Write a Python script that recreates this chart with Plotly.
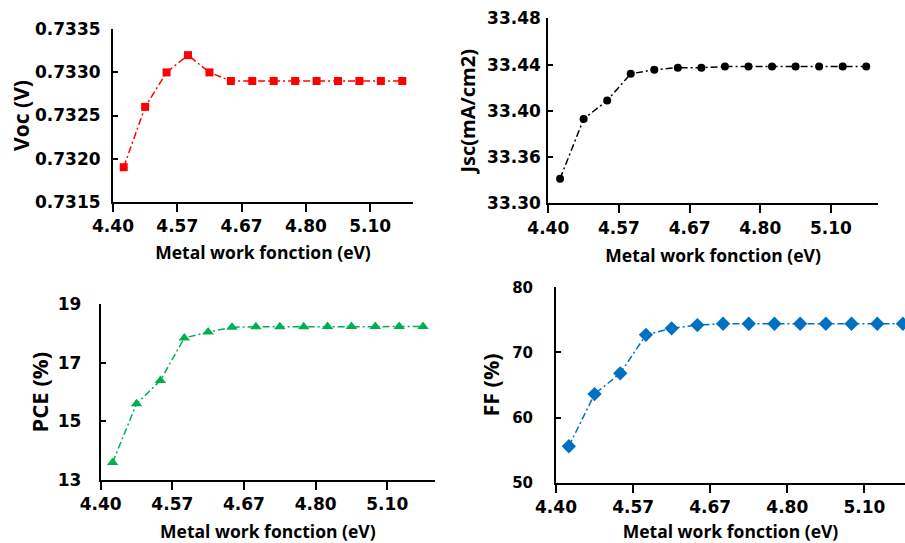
import plotly.graph_objects as go

# Category positions (14 work-function samples) and axis tick labels
n_points = 14
x_idx = list(range(n_points))
x_tick_pos = [-0.5, 2.5, 5.5, 8.5, 11.5]
x_tick_text = ["4.40", "4.57", "4.67", "4.80", "5.10"]

voc = [0.7319, 0.7326, 0.7330, 0.7332, 0.7330, 0.7329, 0.7329, 0.7329, 0.7329,
       0.7329, 0.7329, 0.7329, 0.7329, 0.7329]
jsc = [33.324, 33.382, 33.400, 33.426, 33.430, 33.432, 33.432, 33.433, 33.433,
       33.433, 33.433, 33.433, 33.433, 33.433]
pce = [13.6, 15.6, 16.4, 17.85, 18.05, 18.22, 18.23, 18.23, 18.23,
       18.24, 18.24, 18.24, 18.24, 18.24]
ff = [55.6, 63.6, 66.8, 72.7, 73.7, 74.2, 74.4, 74.4, 74.4,
      74.4, 74.4, 74.4, 74.4, 74.4]

voc_ticks = [0.7315, 0.7320, 0.7325, 0.7330, 0.7335]
voc_tick_text = ["0.7315", "0.7320", "0.7325", "0.7330", "0.7335"]
jsc_ticks = [33.30, 33.345, 33.39, 33.435, 33.48]
jsc_tick_text = ["33.30", "33.36", "33.40", "33.44", "33.48"]
pce_ticks = [13, 15, 17, 19]
ff_ticks = [50, 60, 70, 80]

TICKFONT = "DejaVu Sans"
TITLEFONT = "Open Sans"
DASH = "7px,3px,2px,3px"

fig = go.Figure()

fig.add_trace(go.Scatter(x=x_idx, y=voc, mode="lines+markers", xaxis="x", yaxis="y",
                         line=dict(color="#FF0000", width=1.5, dash=DASH),
                         marker=dict(symbol="square", size=8, color="#FF0000"),
                         cliponaxis=False, showlegend=False))
fig.add_trace(go.Scatter(x=x_idx, y=jsc, mode="lines+markers", xaxis="x2", yaxis="y2",
                         line=dict(color="#000000", width=1.5, dash=DASH),
                         marker=dict(symbol="circle", size=8, color="#000000"),
                         cliponaxis=False, showlegend=False))
fig.add_trace(go.Scatter(x=x_idx, y=pce, mode="lines+markers", xaxis="x3", yaxis="y3",
                         line=dict(color="#00B050", width=1.5, dash=DASH),
                         marker=dict(symbol="triangle-up", size=10, color="#00B050"),
                         cliponaxis=False, showlegend=False))
fig.add_trace(go.Scatter(x=x_idx, y=ff, mode="lines+markers", xaxis="x4", yaxis="y4",
                         line=dict(color="#0070C0", width=1.5, dash=DASH),
                         marker=dict(symbol="diamond", size=11, color="#0070C0"),
                         cliponaxis=False, showlegend=False))

W, H = 905, 543


def dx(a, b):
    return [a / W, min(b / W, 1.0)]


def dy(top, bottom):
    return [1 - bottom / H, 1 - top / H]


def tfont(size):
    return dict(family=TITLEFONT, size=size, color="black", weight="bold")


def kfont(size):
    return dict(family=TICKFONT, size=size, color="black", weight="bold")


xcommon = dict(tickmode="array", tickvals=x_tick_pos, ticktext=x_tick_text,
               showline=True, linecolor="black", linewidth=2, ticks="outside",
               ticklen=8, tickwidth=2, tickcolor="black", showgrid=False, zeroline=False,
               automargin=False, tickfont=kfont(17))
ycommon = dict(tickmode="array", showline=True, linecolor="black", linewidth=2,
               ticks="inside", ticklen=5, tickwidth=2, tickcolor="black",
               showgrid=False, zeroline=False, automargin=False)

xt = "Metal work fonction (eV)"

fig.update_layout(
    width=W, height=H, margin=dict(l=0, r=0, t=0, b=0),
    paper_bgcolor="white", plot_bgcolor="white",
    xaxis=dict(xcommon, domain=dx(113, 413), range=[-0.5, 13.5], anchor="y",
               title=dict(text=xt, font=tfont(17.5), standoff=12)),
    yaxis=dict(ycommon, domain=dy(29.3, 201.7), range=[0.7315, 0.7335], anchor="x",
               tickvals=voc_ticks, ticktext=voc_tick_text, tickfont=kfont(17),
               ticklabelstandoff=7,
               title=dict(text="Voc (V)", font=tfont(21), standoff=0)),
    xaxis2=dict(xcommon, domain=dx(548.3, 878), range=[-0.5, 13.5], anchor="y2",
                title=dict(text=xt, font=tfont(17.5), standoff=13)),
    yaxis2=dict(ycommon, domain=dy(18.3, 203.3), range=[33.30, 33.48], anchor="x2",
                tickvals=jsc_ticks, ticktext=jsc_tick_text, tickfont=kfont(17),
                ticklabelstandoff=2,
                title=dict(text="Jsc(mA/cm2)", font=tfont(20), standoff=6)),
    xaxis3=dict(xcommon, domain=dx(100.7, 435), range=[-0.5, 13.5], anchor="y3",
                title=dict(text=xt, font=tfont(17.5), standoff=18)),
    yaxis3=dict(ycommon, domain=dy(304.3, 480), range=[13, 19], anchor="x3",
                tickvals=pce_ticks, tickfont=kfont(17), ticklabelstandoff=14,
                title=dict(text="PCE (%)", font=tfont(22), standoff=3)),
    xaxis4=dict(xcommon, domain=dx(556, 905), range=[-0.5, -0.5 + (905 - 556) / 25.7], anchor="y4",
                title=dict(text=xt, font=tfont(17.5), standoff=17)),
    yaxis4=dict(ycommon, domain=dy(287.3, 482.7), range=[50, 80], anchor="x4",
                tickvals=ff_ticks, tickfont=kfont(15), ticklabelstandoff=18,
                title=dict(text="FF (%)", font=tfont(21.5), standoff=7)),
)

fig.write_html("out.html", config={"displayModeBar": False},
               post_script="document.body.style.margin='0';")
